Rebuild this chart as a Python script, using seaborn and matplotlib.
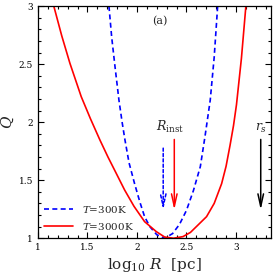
import matplotlib
matplotlib.use('Agg')
import matplotlib.pyplot as plt
import seaborn as sns
import pandas as pd
from matplotlib.ticker import MultipleLocator

sns.set_style('ticks')
plt.rcParams['font.family'] = ['DejaVu Serif']
plt.rcParams['mathtext.fontset'] = 'dejavuserif'
plt.rcParams.update({'xtick.direction': 'in', 'ytick.direction': 'in',
                     'xtick.top': True, 'ytick.right': True,
                     'xtick.color': 'black', 'ytick.color': 'black',
                     'xtick.minor.visible': True, 'ytick.minor.visible': True})

# Curvas: log10 R e Q
logR_300 = [1.717, 1.745, 1.778, 1.818, 1.85, 1.879, 1.92, 1.976, 2.03, 2.077, 2.13,
            2.2, 2.28, 2.36, 2.43, 2.50, 2.57, 2.64, 2.687, 2.74, 2.78, 2.815]
Q_300 = [3.0, 2.73, 2.48, 2.19, 2.0, 1.846, 1.65, 1.47, 1.31, 1.186, 1.10,
         1.03, 1.0, 1.04, 1.12, 1.24, 1.41, 1.617, 1.876, 2.19, 2.56, 3.0]

logR_3000 = [1.16, 1.24, 1.323, 1.437, 1.53, 1.626, 1.707, 1.79, 1.875, 1.97, 2.077,
             2.195, 2.28, 2.37, 2.465, 2.54, 2.60, 2.703, 2.78, 2.855, 2.90, 2.94,
             2.975, 3.005, 3.055, 3.10]
Q_3000 = [3.0, 2.745, 2.507, 2.22, 2.03, 1.846, 1.70, 1.56, 1.416, 1.275, 1.143,
          1.057, 1.01, 1.0, 1.014, 1.05, 1.10, 1.186, 1.30, 1.47, 1.62, 1.80,
          1.97, 2.15, 2.55, 3.0]

# Setas: posicao em log10 R, topo e ponta em Q
seta_x = {'300': 2.265, '3000': 2.377, 'rs': 3.25}
seta_topo = {'300': 1.80, '3000': 1.875, 'rs': 1.875}
seta_ponta = 1.22

df300 = pd.DataFrame({'logR': logR_300, 'Q': Q_300})
df3000 = pd.DataFrame({'logR': logR_3000, 'Q': Q_3000})

fig = plt.figure(figsize=(2.77, 2.77), dpi=100)
ax = fig.add_axes([0.137, 0.14, 0.84, 0.838])

sns.lineplot(data=df300, x='logR', y='Q', ax=ax, color='blue', lw=1.2,
             linestyle=(0, (3, 2)), sort=False, label='$T$=300K')
sns.lineplot(data=df3000, x='logR', y='Q', ax=ax, color='red', lw=1.2,
             sort=False, label='$T$=3000K')

ax.annotate('', xy=(seta_x['300'], seta_ponta), xytext=(seta_x['300'], seta_topo['300']),
            arrowprops=dict(arrowstyle='->,head_length=0.9,head_width=0.2', color='blue',
                            lw=1.1, linestyle=(0, (2, 1.5))))
ax.annotate('', xy=(seta_x['3000'], seta_ponta), xytext=(seta_x['3000'], seta_topo['3000']),
            arrowprops=dict(arrowstyle='->,head_length=0.9,head_width=0.2', color='red', lw=1.1))
ax.annotate('', xy=(seta_x['rs'], seta_ponta), xytext=(seta_x['rs'], seta_topo['rs']),
            arrowprops=dict(arrowstyle='->,head_length=0.9,head_width=0.2', color='black', lw=1.1))

ax.text(2.33, 1.89, r'$R_{\rm inst}$', fontsize=9, ha='center', va='bottom')
ax.text(3.25, 1.89, r'$r_s$', fontsize=9, ha='center', va='bottom')
ax.text(2.23, 2.87, '(a)', fontsize=8, ha='center', va='center')

ax.set_xlim(1, 3.35)
ax.set_ylim(1, 3)
ax.xaxis.set_major_locator(MultipleLocator(0.5))
ax.xaxis.set_minor_locator(MultipleLocator(0.1))
ax.yaxis.set_major_locator(MultipleLocator(0.5))
ax.yaxis.set_minor_locator(MultipleLocator(0.1))
ax.xaxis.set_major_formatter(matplotlib.ticker.FormatStrFormatter('%g'))
ax.yaxis.set_major_formatter(matplotlib.ticker.FormatStrFormatter('%g'))
ax.tick_params(which='both', direction='in', top=True, right=True, labelsize=6.5,
               width=0.8, color='black')
ax.tick_params(which='major', length=4.5)
ax.tick_params(which='minor', length=2.5)
ax.set_xlabel(r'$\log_{10}\,R\ \ [{\rm pc}]$', fontsize=11, labelpad=3)
ax.set_ylabel(r'$Q$', fontsize=11, labelpad=2)
for s in ax.spines.values():
    s.set_linewidth(0.9)
    s.set_color('black')

ax.legend(loc='lower left', frameon=False, fontsize=7.5, handlelength=2.8,
          bbox_to_anchor=(0.0, 0.0), borderaxespad=0.2, labelspacing=0.6)

fig.savefig('out.png', dpi=100)
